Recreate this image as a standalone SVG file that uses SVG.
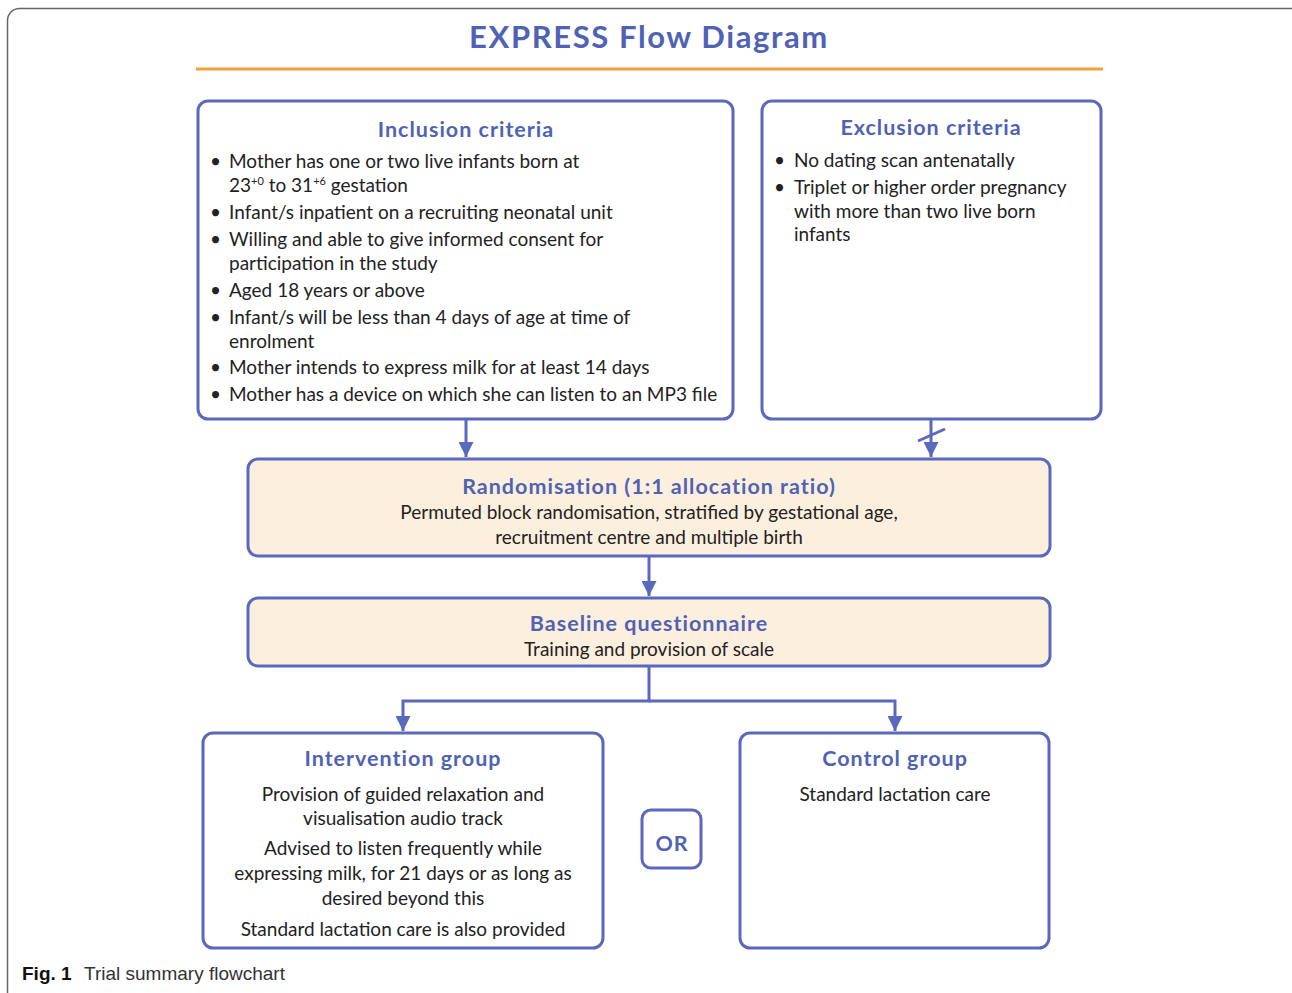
<svg xmlns="http://www.w3.org/2000/svg" width="1292" height="993" viewBox="0 0 1292 993">
<style>
.box{fill:#fff;stroke:#5a68bd;stroke-width:3}
.fill{fill:#fdefdd;stroke:#5a68bd;stroke-width:3}
.h{font-family:Lato,"Liberation Sans",sans-serif;font-weight:bold;font-size:21.5px;letter-spacing:1px;fill:#5062b4;text-anchor:middle}
.t{font-family:Lato,"Liberation Sans",sans-serif;font-size:19px;fill:#222}
.c{text-anchor:middle}
.conn{stroke:#5a68bd;stroke-width:3;fill:none}
.sup{font-size:11px}
</style>
<defs>
<marker id="ah" viewBox="0 0 10 10" refX="10" refY="5" markerWidth="5" markerHeight="5" markerUnits="strokeWidth" orient="auto">
<path d="M0,0 L10,5 L0,10 z" fill="#5a68bd"/>
</marker>
</defs>
<rect width="1292" height="993" fill="#fff"/>
<rect x="7.5" y="8.5" width="1300" height="1000" rx="12" fill="none" stroke="#666" stroke-width="1.5"/>
<text x="649" y="48" font-family="Lato,'Liberation Sans',sans-serif" font-weight="bold" font-size="31" letter-spacing="1.6" fill="#5062b4" text-anchor="middle">EXPRESS Flow Diagram</text>
<line x1="196" y1="69" x2="1103" y2="69" stroke="#f2a03a" stroke-width="3"/>

<g id="connectors">
<line class="conn" x1="466" y1="420" x2="466" y2="457" marker-end="url(#ah)"/>
<line class="conn" x1="931" y1="420" x2="931" y2="457" marker-end="url(#ah)"/>
<line class="conn" x1="918" y1="441" x2="945" y2="429"/>
<line class="conn" x1="649" y1="557" x2="649" y2="596" marker-end="url(#ah)"/>
<polyline class="conn" points="649,667 649,701 403,701 403,731" marker-end="url(#ah)"/>
<polyline class="conn" points="649,701 895,701 895,731" marker-end="url(#ah)"/>
</g>

<g id="inclusion">
<rect class="box" x="198" y="101" width="535" height="318" rx="10"/>
<text class="h" x="466" y="137">Inclusion criteria</text>
<g class="t">
<text x="210" y="168">•</text><text x="229" y="168">Mother has one or two live infants born at</text>
<text x="229" y="192">23<tspan class="sup" dy="-7">+0</tspan><tspan dy="7"> to 31</tspan><tspan class="sup" dy="-7">+6</tspan><tspan dy="7"> gestation</tspan></text>
<text x="210" y="219">•</text><text x="229" y="219">Infant/s inpatient on a recruiting neonatal unit</text>
<text x="210" y="246">•</text><text x="229" y="246">Willing and able to give informed consent for</text>
<text x="229" y="270">participation in the study</text>
<text x="210" y="297">•</text><text x="229" y="297">Aged 18 years or above</text>
<text x="210" y="324">•</text><text x="229" y="324">Infant/s will be less than 4 days of age at time of</text>
<text x="229" y="348">enrolment</text>
<text x="210" y="374">•</text><text x="229" y="374">Mother intends to express milk for at least 14 days</text>
<text x="210" y="401">•</text><text x="229" y="401">Mother has a device on which she can listen to an MP3 file</text>
</g>
</g>

<g id="exclusion">
<rect class="box" x="762" y="101" width="339" height="318" rx="10"/>
<text class="h" x="931" y="135">Exclusion criteria</text>
<g class="t">
<text x="774" y="167">•</text><text x="794" y="167">No dating scan antenatally</text>
<text x="774" y="194">•</text><text x="794" y="194">Triplet or higher order pregnancy</text>
<text x="794" y="218">with more than two live born</text>
<text x="794" y="241">infants</text>
</g>
</g>

<g id="randomisation">
<rect class="fill" x="248" y="459" width="802" height="97" rx="10"/>
<text class="h" x="649" y="494">Randomisation (1:1 allocation ratio)</text>
<text class="t c" x="649" y="519">Permuted block randomisation, stratified by gestational age,</text>
<text class="t c" x="649" y="544">recruitment centre and multiple birth</text>
</g>

<g id="baseline">
<rect class="fill" x="248" y="598" width="802" height="68" rx="10"/>
<text class="h" x="649" y="631">Baseline questionnaire</text>
<text class="t c" x="649" y="656">Training and provision of scale</text>
</g>

<g id="intervention">
<rect class="box" x="203" y="733" width="400" height="215" rx="10"/>
<text class="h" x="403" y="766">Intervention group</text>
<text class="t c" x="403" y="801">Provision of guided relaxation and</text>
<text class="t c" x="403" y="825">visualisation audio track</text>
<text class="t c" x="403" y="855">Advised to listen frequently while</text>
<text class="t c" x="403" y="880">expressing milk, for 21 days or as long as</text>
<text class="t c" x="403" y="905">desired beyond this</text>
<text class="t c" x="403" y="936">Standard lactation care is also provided</text>
</g>

<g id="or">
<rect class="box" x="642" y="810" width="59" height="58" rx="9" stroke-width="2.5"/>
<text class="h" x="672" y="851" font-size="23" letter-spacing="0.5">OR</text>
</g>

<g id="control">
<rect class="box" x="740" y="733" width="309" height="215" rx="10"/>
<text class="h" x="895" y="766">Control group</text>
<text class="t c" x="895" y="801">Standard lactation care</text>
</g>

<g id="caption">
<text x="22" y="980" font-family="'Liberation Sans',sans-serif" font-size="19" font-weight="bold" fill="#111">Fig. 1</text>
<text x="84" y="980" font-family="'Liberation Sans',sans-serif" font-size="19" fill="#333">Trial summary flowchart</text>
</g>
</svg>
